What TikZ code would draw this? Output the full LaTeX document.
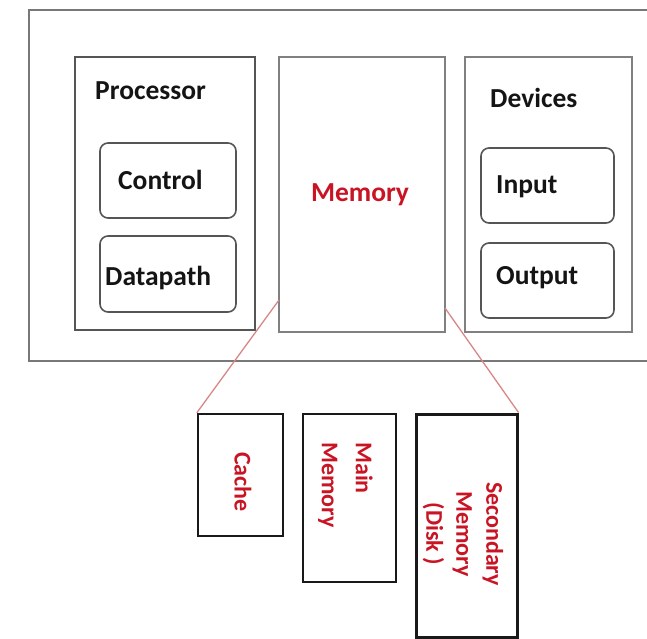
\documentclass[tikz,border=0pt]{standalone}
\usepackage{fontspec}
\setmainfont{Carlito}
\definecolor{memred}{RGB}{200,20,35}
\definecolor{linkpink}{RGB}{215,135,135}
\definecolor{outergray}{RGB}{120,120,120}
\definecolor{boxgray}{RGB}{85,85,85}
\begin{document}
\begin{tikzpicture}[x=1pt,y=-1pt,
  blk/.style={font=\fontsize{27.5}{30}\selectfont\bfseries, text=black!92, inner sep=0},
  redtxt/.style={font=\fontsize{27.5}{30}\selectfont\bfseries, text=memred, inner sep=0},
  vtxt/.style={font=\fontsize{24}{30}\selectfont\bfseries, text=memred, inner sep=0, rotate=-90},
  unit/.style={draw=boxgray, line width=1.8pt, inner sep=0},
  part/.style={draw=boxgray, line width=1.6pt, rounded corners=8pt, inner sep=0},
  level/.style={draw=black!90, line width=2.4pt, inner sep=0},
  link/.style={draw=linkpink, line width=1.3pt}]
\useasboundingbox (0,0) rectangle (647,638);
\begin{scope}
\clip (0,0) rectangle (647,638);
\node[draw=outergray, line width=2pt, minimum width=680pt, minimum height=351pt, inner sep=0] (outer) at (369,185.5) {};

\node[unit, minimum width=180pt, minimum height=273pt] (proc) at (165,193.5) {};
\node[unit, draw=gray, minimum width=166pt, minimum height=275pt] (mem) at (362,194.5) {};
\node[unit, draw=gray, minimum width=167pt, minimum height=275pt] (dev) at (548.5,194.5) {};

\node[part, minimum width=136pt, minimum height=75pt] (ctrl) at (168,180.5) {};
\node[part, minimum width=136pt, minimum height=76pt] (dpath) at (168,274) {};
\node[part, minimum width=133pt, minimum height=75pt] (inp) at (547.5,185.5) {};
\node[part, minimum width=133pt, minimum height=75pt] (outp) at (547.5,280.5) {};

\node[blk, anchor=west] (tproc) at (95,91) {Processor};
\node[blk, anchor=west] (tdev) at (490,98) {Devices};
\node[blk, anchor=west] (tctrl) at (118,180) {Control};
\node[blk, anchor=west] (tdpath) at (105,278) {Datapath};
\node[blk, anchor=west] (tinp) at (496,187) {Input};
\node[blk, anchor=west] (toutp) at (496,278) {Output};
\node[redtxt] (tmem) at (360,195) {Memory};

\node[level, minimum width=85pt, minimum height=122pt] (cache) at (240.5,475) {};
\node[level, minimum width=93pt, minimum height=168pt] (mainm) at (349.5,498) {};
\node[level, line width=3pt, minimum width=101pt, minimum height=223pt] (sec) at (466.5,525.5) {};

\node[vtxt] (tcache) at (243,482) {Cache};
\node[vtxt, align=left, anchor=north west, font=\fontsize{24}{34}\selectfont\bfseries] (tmain) at (373,442) {Main\\Memory};
\node[vtxt, align=center] (tsec) at (463,534) {Secondary\\Memory\\(Disk )};

\coordinate (m1) at (279,300);
\coordinate (m2) at (445,308);
\draw[link] (m1) -- (cache.north west);
\draw[link] (m2) -- (sec.north east);
\end{scope}
\end{tikzpicture}
\end{document}
